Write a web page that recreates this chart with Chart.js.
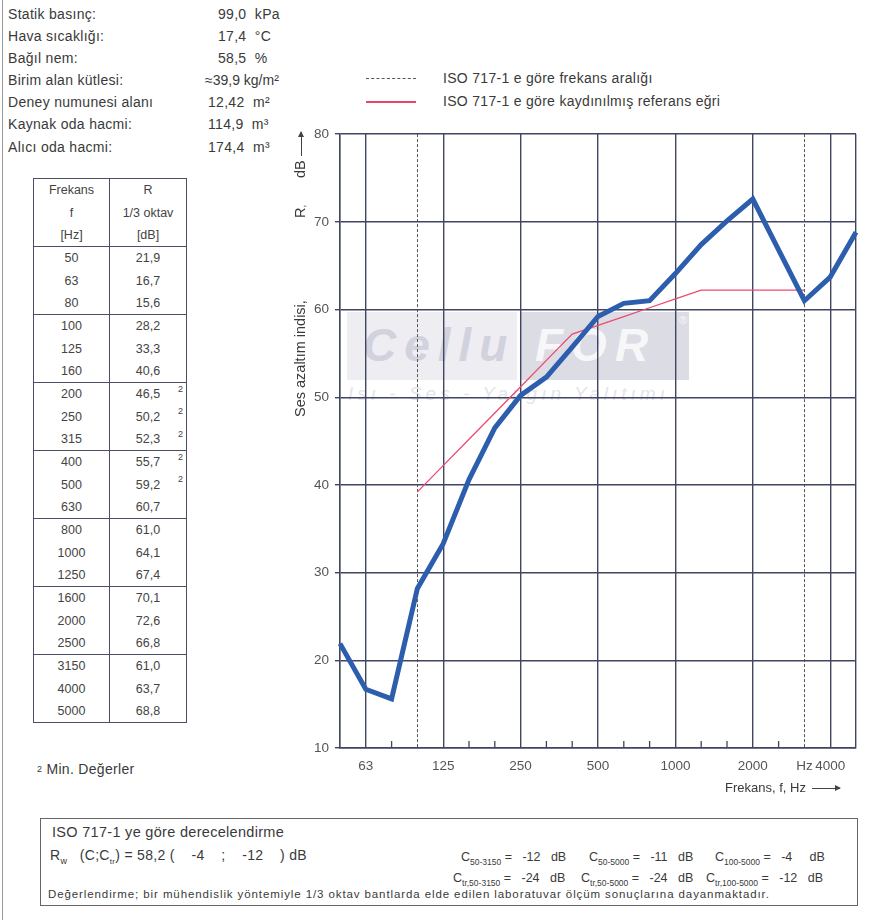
<!DOCTYPE html>
<html>
<head>
<meta charset="utf-8">
<script src="https://cdn.jsdelivr.net/npm/chart.js@4.4.1/dist/chart.umd.min.js"></script>
<style>
body{margin:0;background:#fff;font-family:"Liberation Sans",Arial,sans-serif;color:#3a3a3a;}
#page{position:relative;width:873px;height:920px;overflow:hidden;}
.t{position:absolute;white-space:nowrap;font-size:14px;line-height:15px;letter-spacing:0.3px;}
#leftline{position:absolute;left:2px;top:0;width:1px;height:920px;background:#999;}
table{position:absolute;left:33px;top:178px;border-collapse:collapse;font-size:12.5px;color:#444;}
td{padding:0;height:22.35px;text-align:center;border-left:1.5px solid #4a4e66;border-right:1.5px solid #4a4e66;}
tr.g td{border-top:1.5px solid #4a4e66;}
tr.last td{border-bottom:1.5px solid #4a4e66;}
td.f{width:75px;}
td.r{width:76px;position:relative;}
sup{position:absolute;right:3px;top:1px;font-size:9px;}
#wm1{position:absolute;left:347px;top:312px;width:170px;height:68px;background:#ededf2;}
#wm2{position:absolute;left:521px;top:312px;width:168px;height:68px;background:#dcdce4;}
.wmt{position:absolute;font-style:italic;font-weight:bold;font-size:46px;letter-spacing:8px;}
#box{position:absolute;left:40px;top:818px;width:816px;height:86px;border:1.5px solid #666;}
canvas{position:absolute;left:280px;top:120px;}
.rot{position:absolute;transform-origin:0 0;transform:rotate(-90deg);font-size:14.5px;line-height:16px;white-space:nowrap;color:#3a3a3a;}
.arr{display:inline-block;position:relative;width:30px;height:1px;background:#444;vertical-align:middle;margin-left:4px;}
.arr:after{content:"";position:absolute;right:-1px;top:-3px;border-left:6px solid #444;border-top:3.5px solid transparent;border-bottom:3.5px solid transparent;}
.c{position:absolute;white-space:nowrap;font-size:12.5px;line-height:14px;}
.c sub{font-size:8.5px;}
</style>
</head>
<body>
<div id="page">
<div id="leftline"></div>

<div class="t" style="left:8px;top:7px">Statik basınç:</div>
<div class="t" style="left:8px;top:29px">Hava sıcaklığı:</div>
<div class="t" style="left:8px;top:51px">Bağıl nem:</div>
<div class="t" style="left:8px;top:73px">Birim alan kütlesi:</div>
<div class="t" style="left:8px;top:95px">Deney numunesi alanı</div>
<div class="t" style="left:8px;top:117px">Kaynak oda hacmi:</div>
<div class="t" style="left:8px;top:140px">Alıcı oda hacmi:</div>
<div class="t" style="left:218px;top:7px">99,0&nbsp; kPa</div>
<div class="t" style="left:218px;top:29px">17,4&nbsp; °C</div>
<div class="t" style="left:218px;top:51px">58,5&nbsp; %</div>
<div class="t" style="left:205px;top:73px;letter-spacing:0">≈39,9 kg/m²</div>
<div class="t" style="left:208px;top:95px">12,42&nbsp; m²</div>
<div class="t" style="left:208px;top:117px">114,9&nbsp; m³</div>
<div class="t" style="left:208px;top:140px">174,4&nbsp; m³</div>

<div style="position:absolute;left:366px;top:78px;width:50px;border-top:1px dashed #555"></div>
<div class="t" style="left:443px;top:71px">ISO 717-1 e göre frekans aralığı</div>
<div style="position:absolute;left:366px;top:101px;width:50px;height:1.5px;background:#e8456c"></div>
<div class="t" style="left:443px;top:94px">ISO 717-1 e göre kaydınılmış referans eğri</div>

<table id="tbl"></table>
<div class="t" style="left:37px;top:762px"><span style="font-size:9px;vertical-align:top">2</span> Min. Değerler</div>

<div id="wm1"><div class="wmt" style="left:16px;top:6px;color:#d2d2de">Cellu</div></div>
<div id="wm2"><div class="wmt" style="left:14px;top:6px;color:#f7f7fa">FOR</div><div style="position:absolute;right:2px;top:2px;color:#f7f7fa;font-size:11px">®</div></div>
<div class="t" style="left:348px;top:384px;font-size:19px;line-height:20px;color:#e4e4ea;font-style:italic;letter-spacing:4px">Isı - Ses - Yangın Yalıtımı</div>

<canvas id="myChart" width="593" height="690"></canvas>

<div class="rot" style="left:292px;top:417px">Ses azaltım indisi,</div>
<div class="rot" style="left:292px;top:218px">R<span style="font-size:10px">,</span></div>
<div class="rot" style="left:292px;top:178px">dB<span class="arr" style="width:24px"></span></div>
<div class="t" style="left:725px;top:780px;font-size:13px;letter-spacing:0">Frekans, f, Hz<span class="arr" style="width:28px;margin-left:6px"></span></div>

<div id="box">
 <div class="t" style="left:11px;top:6px;font-size:14.5px">ISO 717-1 ye göre derecelendirme</div>
 <div class="t" style="left:9px;top:29px;font-size:14px">R<sub style="font-size:9px">w</sub>&nbsp;&nbsp; (C;C<sub style="font-size:8px">tr</sub>) = 58,2 (&nbsp;&nbsp;&nbsp; -4&nbsp;&nbsp;&nbsp; ;&nbsp;&nbsp;&nbsp; -12&nbsp;&nbsp;&nbsp; ) dB</div>
 <div class="c" style="left:420px;top:31px">C<sub>50-3150</sub> =&nbsp;&nbsp; -12&nbsp;&nbsp; dB</div>
 <div class="c" style="left:548px;top:31px">C<sub>50-5000</sub> =&nbsp;&nbsp; -11&nbsp;&nbsp; dB</div>
 <div class="c" style="left:674px;top:31px">C<sub>100-5000</sub> =&nbsp;&nbsp; -4&nbsp;&nbsp;&nbsp;&nbsp; dB</div>
 <div class="c" style="left:412px;top:52px">C<sub>tr,50-3150</sub> =&nbsp;&nbsp; -24&nbsp;&nbsp; dB</div>
 <div class="c" style="left:540px;top:52px">C<sub>tr,50-5000</sub> =&nbsp;&nbsp; -24&nbsp;&nbsp; dB</div>
 <div class="c" style="left:665px;top:52px">C<sub>tr,100-5000</sub> =&nbsp;&nbsp; -12&nbsp;&nbsp; dB</div>
 <div class="t" style="left:7px;top:68px;font-size:11.5px;letter-spacing:0.9px">Değerlendirme; bir mühendislik yöntemiyle 1/3 oktav bantlarda elde edilen laboratuvar ölçüm sonuçlarına dayanmaktadır.</div>
</div>
</div>

<script>
const frequencies=["50","63","80","100","125","160","200","250","315","400","500","630","800","1000","1250","1600","2000","2500","3150","4000","5000"];
const measuredR=[21.9,16.7,15.6,28.2,33.3,40.6,46.5,50.2,52.3,55.7,59.2,60.7,61.0,64.1,67.4,70.1,72.6,66.8,61.0,63.7,68.8];
const referenceR=[null,null,null,39.2,42.2,45.2,48.2,51.2,54.2,57.2,58.2,59.2,60.2,61.2,62.2,62.2,62.2,62.2,62.2,null,null];
const minMarked=["200","250","315","400","500"];
const tickText={"63":"63","125":"125","250":"250","500":"500","1000":"1000","2000":"2000","3150":"Hz","4000":"4000"};
const majorFreqs=["50","63","125","250","500","1000","2000","4000","5000"];
const dashedFreqs=["100","3150"];
const yMin=10, yMax=80, yStep=10;

const gridColor="#404560";

// table
const tbl=document.getElementById("tbl");
let head=[["Frekans","R"],["f","1/3 oktav"],["[Hz]","[dB]"]];
head.forEach((h,i)=>{
    let tr=document.createElement("tr");
    if(i==0) tr.classList.add("g");
    tr.innerHTML=`<td class="f">${h[0]}</td><td class="r">${h[1]}</td>`;
    tbl.append(tr);
});
frequencies.forEach((f,i)=>{
    let tr=document.createElement("tr");
    if(i%3==0) tr.classList.add("g");
    if(i==frequencies.length-1) tr.classList.add("last");
    let val=measuredR[i].toFixed(1).replace(".",",");
    let sup=minMarked.includes(f)?"<sup>2</sup>":"";
    tr.innerHTML=`<td class="f">${f}</td><td class="r">${val}${sup}</td>`;
    tbl.append(tr);
});

const minorTicks={
    id:"minorTicks",
    afterDatasetsDraw(chart){
        const x=chart.scales.x, a=chart.chartArea, c=chart.ctx;
        c.save();
        c.strokeStyle=gridColor;
        c.lineWidth=1.3;
        frequencies.forEach((f,i)=>{
            if(majorFreqs.includes(f)||dashedFreqs.includes(f)) return;
            let px=x.getPixelForTick(i);
            c.beginPath();
            c.moveTo(px,a.bottom);
            c.lineTo(px,a.bottom-7);
            c.stroke();
        });
        c.restore();
    }
};

const ctx=document.getElementById("myChart");
const myChart=new Chart(ctx,{
    type:"line",
    data:{
        labels:frequencies,
        datasets:[{
            data:measuredR,
            borderColor:"#2d5ead",
            borderWidth:5,
            pointRadius:0,
            tension:0,
            order:1
        },{
            data:referenceR,
            borderColor:"#ec4a70",
            borderWidth:1.3,
            pointRadius:0,
            tension:0,
            order:2
        }]
    },
    options:{
        responsive:false,
        animation:false,
        layout:{padding:{top:10,right:17,left:0,bottom:0}},
        plugins:{legend:{display:false},tooltip:{enabled:false}},
        scales:{
            x:{
                type:"category",
                offset:false,
                grid:{
                    offset:false,
                    drawTicks:false,
                    color:(c)=>{
                        let f=frequencies[c.index];
                        if(majorFreqs.includes(f)) return gridColor;
                        if(dashedFreqs.includes(f)) return "#555";
                        return "rgba(0,0,0,0)";
                    },
                    lineWidth:(c)=>dashedFreqs.includes(frequencies[c.index])?1:1.4
                },
                border:{
                    color:gridColor,
                    width:1.4,
                    dash:(c)=>(c.index!==undefined&&dashedFreqs.includes(frequencies[c.index]))?[3,2]:[]
                },
                ticks:{
                    autoSkip:false,
                    maxRotation:0,
                    padding:10,
                    color:"#555",
                    font:{family:"Liberation Sans",size:13.5},
                    callback:(v,i)=>tickText[frequencies[i]]||""
                },
                afterFit:(s)=>{s.height=62;}
            },
            y:{
                min:yMin,
                max:yMax,
                grid:{color:gridColor,lineWidth:1.4,tickLength:5},
                border:{color:gridColor,width:1.4},
                ticks:{
                    stepSize:yStep,
                    padding:6,
                    color:"#555",
                    font:{family:"Liberation Sans",size:13.5}
                },
                afterFit:(s)=>{s.width=60;}
            }
        }
    },
    plugins:[minorTicks]
});
</script>
</body>
</html>
